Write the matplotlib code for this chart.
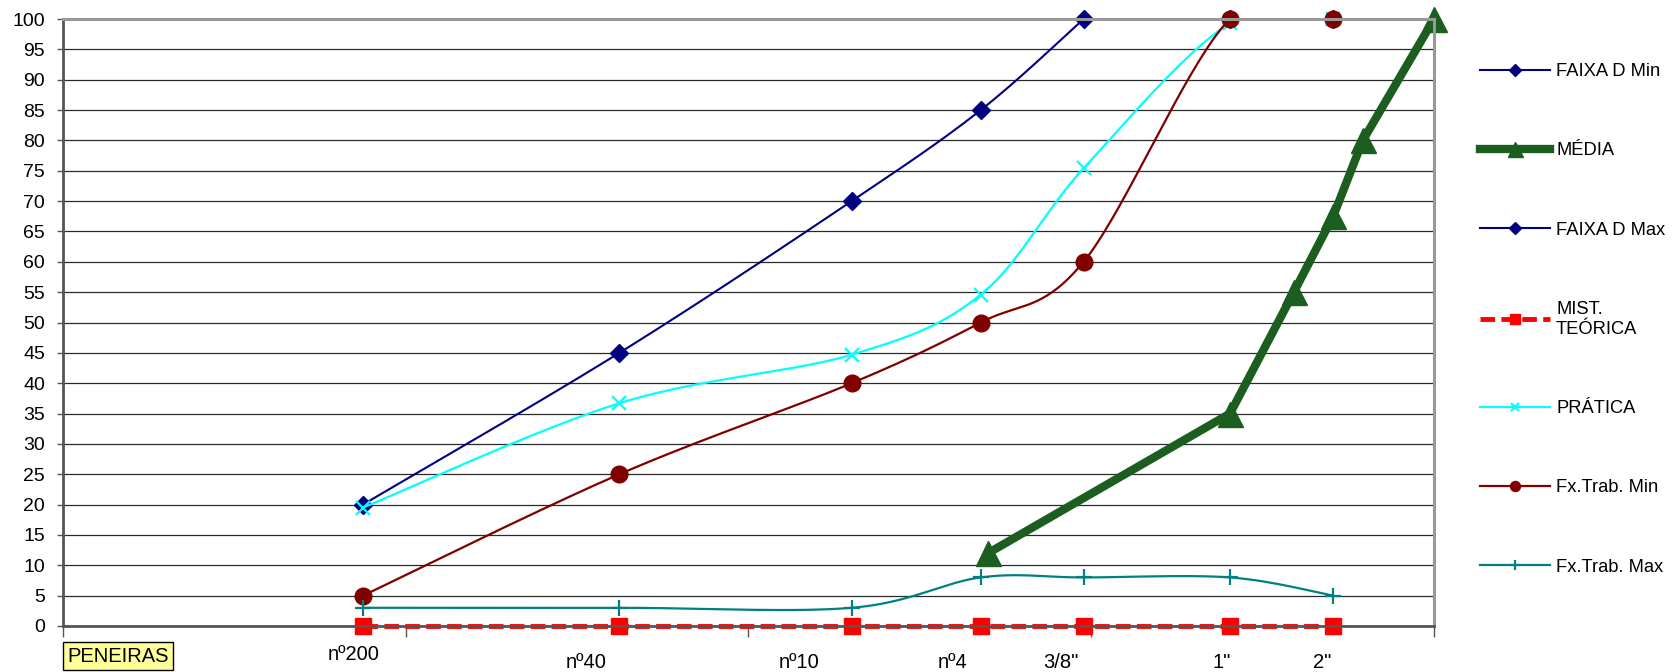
import numpy as np
import matplotlib.pyplot as plt
from matplotlib.lines import Line2D
from matplotlib.ticker import NullLocator

plt.rcParams['font.family'] = ['Liberation Sans', 'DejaVu Sans']

# sieve openings (mm) and their names
sieve_names = ['nº200', 'nº40', 'nº10', 'nº4', '3/8"', '1"', '2"']
sieve_mm = [0.075, 0.42, 2.0, 4.76, 9.5, 25.4, 50.8]

# percent passing for each series
faixa_d_min = [20, 45, 70, 85, 100]
faixa_d_max_mm = [25.4, 50.8]
faixa_d_max = [100, 100]
media_mm = [5.0, 25.4, 39.0, 50.8, 62.0, 100.0]
media = [12, 35, 55, 67.5, 80, 100]
mist_teorica = [0, 0, 0, 0, 0, 0, 0]
pratica = [19.5, 36.7, 44.7, 54.6, 75.4, 99.3, 100]
fx_trab_min = [5, 25, 40, 50, 60, 100, 100]
fx_trab_max = [3, 3, 3, 8, 8, 8, 5]


def smooth(xs, ys, n=40):
    # Excel style smoothed line (bezier through points), built in log-x space
    P = np.column_stack([np.log10(xs), np.asarray(ys, float)])
    out = [P[0]]
    t = np.linspace(0, 1, n)[1:, None]
    for i in range(len(P) - 1):
        p0 = P[max(i - 1, 0)]
        p1, p2 = P[i], P[i + 1]
        p3 = P[min(i + 2, len(P) - 1)]
        c1 = p1 + (p2 - p0) / 6
        c2 = p2 - (p3 - p1) / 6
        seg = (1 - t)**3 * p1 + 3 * (1 - t)**2 * t * c1 + 3 * (1 - t) * t**2 * c2 + t**3 * p2
        out.extend(seg)
    out = np.array(out)
    return 10**out[:, 0], out[:, 1]


fig = plt.figure(figsize=(16.81, 6.72), dpi=100)
ax = fig.add_axes([63 / 1681, 46 / 672, (1434 - 63) / 1681, (626 - 19) / 672])

series = [
    # label, x, y, color, lw, marker, ms, smoothed, clip, extra
    ('FAIXA D Min', sieve_mm[:5], faixa_d_min, '#000080', 1.5, 'D', 9.5, True, True, {}),
    ('MÉDIA', media_mm, media, '#1b5e20', 6, '^', 18, False, False, {}),
    ('FAIXA D Max', faixa_d_max_mm, faixa_d_max, '#000080', 1.5, 'D', 9.5, True, True, {}),
    ('MIST.\nTEÓRICA', sieve_mm, mist_teorica, '#ff0000', 3.5, 's', 11, False, False, {'dashes': (3, 1.3)}),
    ('PRÁTICA', sieve_mm, pratica, '#00ffff', 1.6, 'x', 10, True, True, {}),
    ('Fx.Trab. Min', sieve_mm, fx_trab_min, '#800000', 1.6, 'o', 12, True, True, {}),
    ('Fx.Trab. Max', sieve_mm, fx_trab_max, '#008080', 1.6, '+', 11, True, True, {}),
]

handles = []
for label, xs, ys, c, lw, m, ms, sm, clip, extra in series:
    if sm:
        lx, ly = smooth(xs, ys)
    else:
        lx, ly = xs, ys
    ax.plot(lx, ly, color=c, lw=lw, solid_capstyle='butt', clip_on=clip, **extra)
    ax.plot(xs, ys, ls='none', marker=m, ms=ms, color=c, mec=c,
            mew=1.6 if m in 'x+' else 1, clip_on=False)
    handles.append(Line2D([], [], color=c, lw=lw, marker=m, ms=ms * 0.6, mec=c,
                          mew=1.6 if m in 'x+' else 1, label=label, **extra))

ax.set_xscale('log')
ax.set_xlim(0.01, 100)
ax.set_ylim(0, 100)
ax.set_xticks([0.01, 0.1, 1, 10, 100])
ax.xaxis.set_minor_locator(NullLocator())
ax.set_xticklabels([])
ax.set_yticks(np.arange(0, 101, 5))
ax.tick_params(axis='y', length=4, width=1, color='#555555', labelsize=14, pad=9)
ax.tick_params(axis='x', length=8, width=1, color='#555555')
ax.yaxis.grid(True, color='#2a2a2a', lw=0.9)
ax.set_axisbelow(True)
for s in ['top', 'right']:
    ax.spines[s].set_color('#999999')
    ax.spines[s].set_linewidth(2.2)
for s in ['left', 'bottom']:
    ax.spines[s].set_color('#555555')
    ax.spines[s].set_linewidth(2)

# sieve name labels under the axis
label_pos = [(354, 654), (586, 662), (799, 662), (953, 662), (1061, 662), (1222, 662), (1322, 662)]
for name, (px, py) in zip(sieve_names, label_pos):
    fig.text(px / 1681, 1 - py / 672, name, ha='center', va='center', fontsize=14.5)

fig.text(118 / 1681, 1 - 656 / 672, 'PENEIRAS', ha='center', va='center', fontsize=14.5,
         bbox=dict(boxstyle='square,pad=0.22', fc='#ffff99', ec='black', lw=1))

fig.legend(handles=handles, loc='upper left', bbox_to_anchor=(1480 / 1681, 1 - 63 / 672),
           frameon=False, fontsize=13.2, handlelength=3.8, handletextpad=0.35,
           labelspacing=3.4, borderpad=0, borderaxespad=0)

fig.savefig('out.png', dpi=100)
